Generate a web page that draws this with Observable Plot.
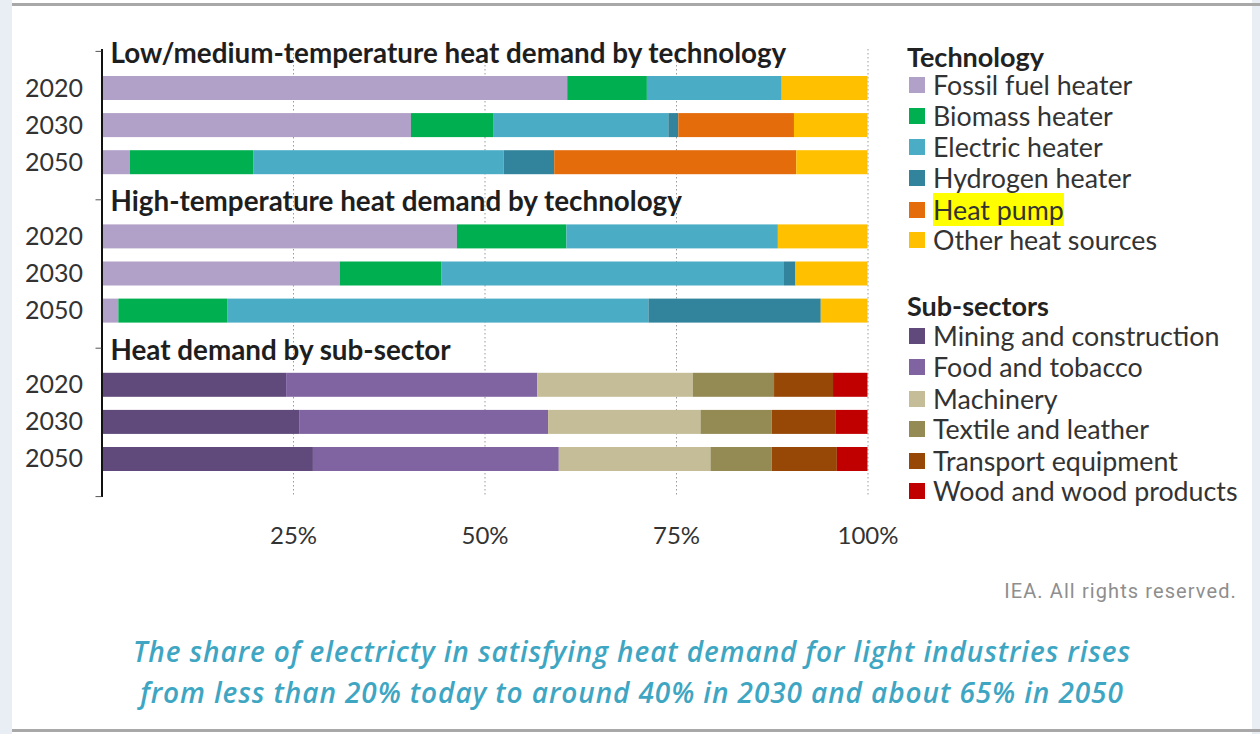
<!DOCTYPE html>
<html><head><meta charset="utf-8">
<script src="https://cdn.jsdelivr.net/npm/d3@7"></script>
<script src="https://cdn.jsdelivr.net/npm/@observablehq/plot@0.6"></script>
<style>
html,body{margin:0;padding:0}
body{background:#e9eef4;width:1260px;height:734px;overflow:hidden;position:relative;font-family:Lato,sans-serif}
#panel{position:absolute;left:12px;top:0;width:1240px;height:734px;background:#fff}
.hline{position:absolute;left:12px;width:1248px;height:3px;background:#a8a8a8}
#chart{position:absolute;left:0;top:0}
.leg{position:absolute;left:0;top:0}
.lt{position:absolute;left:907px;font-weight:bold;font-size:27px;color:#222;line-height:30px;white-space:nowrap}
.li{position:absolute;left:909px;height:30px;white-space:nowrap}
.sw{position:absolute;left:0;top:7px;width:16px;height:16px}
.tx{position:absolute;left:24px;top:0;font-size:26.8px;line-height:30px;color:#333;padding:0 0}
#credit{position:absolute;right:23px;top:579px;font-family:"Roboto",sans-serif;font-size:20px;letter-spacing:1.1px;color:#8e8e8e;line-height:24px;white-space:nowrap}
#caption{position:absolute;left:0;width:1264px;top:631px;text-align:center;font-family:"Open Sans",sans-serif;font-style:italic;font-weight:600;font-size:28px;letter-spacing:0.9px;line-height:41px;color:#3ea6c2;white-space:nowrap}
</style></head>
<body>
<div id="panel"></div>
<div class="hline" style="top:3px"></div>
<div class="hline" style="top:729px"></div>
<div id="chart"></div>
<div class="leg" id="legend"></div>
<div id="credit">IEA. All rights reserved.</div>
<div id="caption"></div>
<script>
// ---- data ----
const years = ["2020", "2030", "2050"];
const panelTitles = [
  "Low/medium-temperature heat demand by technology",
  "High-temperature heat demand by technology",
  "Heat demand by sub-sector"
];
const technologies = ["Fossil fuel heater", "Biomass heater", "Electric heater", "Hydrogen heater", "Heat pump", "Other heat sources"];
const techColors = ["#b1a0c7", "#00b050", "#4bacc6", "#31849b", "#e46c0a", "#ffc000"];
const subSectors = ["Mining and construction", "Food and tobacco", "Machinery", "Textile and leather", "Transport equipment", "Wood and wood products"];
const subColors = ["#604a7b", "#8064a2", "#c4bd97", "#948a54", "#974806", "#c00000"];
// shares (%) per year, in category order
const lowMedium2020 = [60.8, 10.4, 17.6, 0, 0, 11.2];
const lowMedium2030 = [40.4, 10.8, 22.8, 1.3, 15.1, 9.6];
const lowMedium2050 = [3.7, 16.1, 32.7, 6.6, 31.6, 9.3];
const high2020 = [46.4, 14.3, 27.6, 0, 0, 11.7];
const high2030 = [31.1, 13.3, 44.7, 1.5, 0, 9.4];
const high2050 = [2.2, 14.2, 55.0, 22.5, 0, 6.1];
const sub2020 = [24.1, 32.8, 20.3, 10.6, 7.7, 4.5];
const sub2030 = [25.8, 32.5, 19.9, 9.3, 8.3, 4.2];
const sub2050 = [27.6, 32.1, 19.8, 8.0, 8.5, 4.0];
const xTicks = [25, 50, 75, 100];
const caption = [
  "The share of electricty in satisfying heat demand for light industries rises",
  "from less than 20% today to around 40% in 2030 and about 65% in 2050"
];

// ---- build table ----
const panels = [
  {cats: technologies, series: [lowMedium2020, lowMedium2030, lowMedium2050]},
  {cats: technologies, series: [high2020, high2030, high2050]},
  {cats: subSectors, series: [sub2020, sub2030, sub2050]}
];
const rows = [];
const yDomain = [];
const titleRows = [];
const yearKeys = [];
panels.forEach((p, i) => {
  const tk = "t" + i;
  yDomain.push(tk);
  titleRows.push({key: tk, title: panelTitles[i]});
  years.forEach((yr, j) => {
    const key = i + "|" + yr;
    yDomain.push(key);
    yearKeys.push(key);
    p.series[j].forEach((v, k) => { if (v > 0) rows.push({key, cat: p.cats[k], value: v}); });
  });
});
yDomain.push("end");
const tickKeys = [...titleRows.map(d => d.key), "end"];

const W = 900, H = 560;
const chart = Plot.plot({
  width: W, height: H,
  marginLeft: 101.5, marginRight: 32.5, marginTop: 49, marginBottom: 63,
  style: {fontFamily: "Lato, sans-serif", background: "transparent", overflow: "visible"},
  x: {domain: [0, 100], axis: null, label: null},
  y: {type: "band", domain: yDomain, range: [38.9, 508.1], paddingInner: 0.353, paddingOuter: 0, round: false, axis: null, label: null},
  color: {domain: [...technologies, ...subSectors], range: [...techColors, ...subColors]},
  marks: [
    Plot.ruleX(xTicks, {stroke: "#9a9a9a", strokeDasharray: "1.5,2.5", strokeWidth: 1}),
    Plot.barX(rows, Plot.stackX({x: "value", y: "key", fill: "cat", order: null})),
    Plot.text(titleRows, {y: "key", text: "title", frameAnchor: "left", dx: 8.5, dy: 2.5, textAnchor: "start", fontWeight: "bold", fontSize: 27.8, fill: "#1e1e1e"}),
    Plot.ruleX([0], {stroke: "#111", strokeWidth: 2}),
    Plot.axisY(tickKeys, {tickSize: 6, tickFormat: () => "", stroke: "#555", label: null}),
    Plot.axisY(yearKeys, {tickSize: 0, tickPadding: 19, tickFormat: k => k.split("|")[1], fontSize: 25, fill: "#333", label: null}),
    Plot.axisX(xTicks, {anchor: "bottom", tickSize: 0, tickPadding: 29, tickFormat: d => d + "%", fontSize: 24, fill: "#333", label: null})
  ]
});
document.getElementById("chart").appendChild(chart);

// ---- legend ----
const legend = document.getElementById("legend");
function addTitle(text, cy) {
  const d = document.createElement("div");
  d.className = "lt"; d.textContent = text; d.style.top = (cy - 15) + "px";
  legend.appendChild(d);
}
function addItem(text, color, cy, highlight) {
  const d = document.createElement("div");
  d.className = "li"; d.style.top = (cy - 15) + "px";
  const s = document.createElement("div"); s.className = "sw"; s.style.background = color;
  const t = document.createElement("div"); t.className = "tx"; t.textContent = text;
  if (highlight) { t.style.background = "#ffff00"; t.style.height = "33px"; t.style.top = "-2px"; t.style.lineHeight = "34px"; }
  d.appendChild(s); d.appendChild(t); legend.appendChild(d);
}
const techY = [85, 116, 147, 178, 210, 240];
const subY = [336, 367, 399, 429, 461, 491];
addTitle("Technology", 57);
technologies.forEach((c, i) => addItem(c, techColors[i], techY[i], c === "Heat pump"));
addTitle("Sub-sectors", 306);
subSectors.forEach((c, i) => addItem(c, subColors[i], subY[i], false));

document.getElementById("caption").innerHTML = caption.map(s => "<div>" + s + "</div>").join("");
</script>
</body></html>
